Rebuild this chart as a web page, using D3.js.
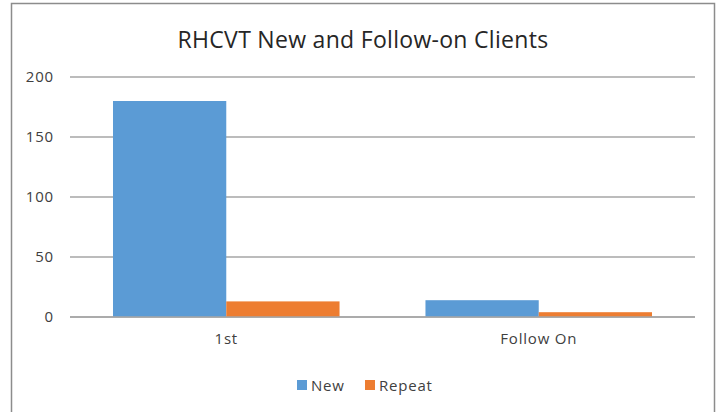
<!DOCTYPE html>
<meta charset="utf-8">
<head>
    <style>
        body {
            margin: 0;
            background: #fff;
            font-family: 'Open Sans', sans-serif;
        }
        .axis text,
        .legend text {
            font-family: 'Open Sans', sans-serif;
            font-size: 15px;
            letter-spacing: 0.8px;
            fill: #404040;
        }
        .grid line {
            stroke: #a6a6a6;
            stroke-width: 1.5px;
        }
    </style>
</head>
<body>
    <svg id="chart"></svg>

    <script src="https://cdn.jsdelivr.net/npm/d3@7"></script>
    <script>

        // data
        var categories = ["1st", "Follow On"];
        var seriesNames = ["New", "Repeat"];
        var newValues = [180, 14];
        var repeatValues = [13, 4];
        var yTicks = [0, 50, 100, 150, 200];
        var colors = ["#5b9bd5", "#ed7d31"];

        var rows = categories.map(function (c, i) {
            return { cat: c, values: [newValues[i], repeatValues[i]] };
        });

        var W = 718, H = 412;
        var svg = d3.select("#chart")
            .attr("width", W)
            .attr("height", H);

        // chart frame (bottom edge falls outside the picture)
        svg.append("rect")
            .attr("x", 11.5)
            .attr("y", 3.5)
            .attr("width", 703)
            .attr("height", 420)
            .attr("fill", "#fff")
            .attr("stroke", "#8c8c8c")
            .attr("stroke-width", 1.5);

        svg.append("text")
            .attr("x", 363)
            .attr("y", 48)
            .attr("text-anchor", "middle")
            .style("font-size", "23px")
            .style("letter-spacing", "0.3px")
            .style("fill", "#262626")
            .text("RHCVT New and Follow-on Clients");

        var plotL = 70, plotR = 695, plotT = 77, plotB = 317;

        var y = d3.scaleLinear()
            .domain([0, 200])
            .range([plotB, plotT]);

        var x0 = d3.scaleBand()
            .domain(categories)
            .range([plotL, plotR])
            .paddingInner(0.275)
            .paddingOuter(0.1376);

        var x1 = d3.scaleBand()
            .domain(seriesNames)
            .range([0, x0.bandwidth()]);

        // gridlines
        svg.append("g")
            .attr("class", "grid")
            .selectAll("line")
            .data(yTicks)
            .enter()
            .append("line")
            .attr("x1", plotL)
            .attr("x2", plotR)
            .attr("y1", function (d) { return y(d); })
            .attr("y2", function (d) { return y(d); });

        // y axis labels
        var yAxis = svg.append("g")
            .attr("class", "axis")
            .attr("transform", "translate(" + 59 + ",0)")
            .call(d3.axisLeft(y).tickValues(yTicks).tickSize(0).tickPadding(5));
        yAxis.select(".domain").remove();

        // bars
        var groups = svg.selectAll(".grp")
            .data(rows)
            .enter()
            .append("g")
            .attr("class", "grp")
            .attr("transform", function (d) { return "translate(" + x0(d.cat) + ",0)"; });

        groups.selectAll("rect")
            .data(function (d) { return d.values.map(function (v, i) { return { name: seriesNames[i], value: v, i: i }; }); })
            .enter()
            .append("rect")
            .attr("x", function (d) { return x1(d.name); })
            .attr("y", function (d) { return y(d.value); })
            .attr("width", x1.bandwidth())
            .attr("height", function (d) { return plotB - y(d.value); })
            .attr("fill", function (d) { return colors[d.i]; });

        // redraw zero line on top of bars
        svg.append("line")
            .attr("x1", plotL)
            .attr("x2", plotR)
            .attr("y1", y(0))
            .attr("y2", y(0))
            .attr("stroke", "#a6a6a6")
            .attr("stroke-width", 1.5);

        // x axis labels
        var xAxis = svg.append("g")
            .attr("class", "axis")
            .attr("transform", "translate(0," + plotB + ")")
            .call(d3.axisBottom(x0).tickSize(0).tickPadding(16));
        xAxis.select(".domain").remove();

        // legend
        var legend = svg.append("g")
            .attr("class", "legend")
            .attr("transform", "translate(297,380)");
        var legX = [0, 68];
        seriesNames.forEach(function (name, i) {
            legend.append("rect")
                .attr("x", legX[i])
                .attr("y", 0)
                .attr("width", 10)
                .attr("height", 10)
                .attr("fill", colors[i]);
            legend.append("text")
                .attr("x", legX[i] + 14)
                .attr("y", 10.5)
                .text(name);
        });
    </script>
</body>
